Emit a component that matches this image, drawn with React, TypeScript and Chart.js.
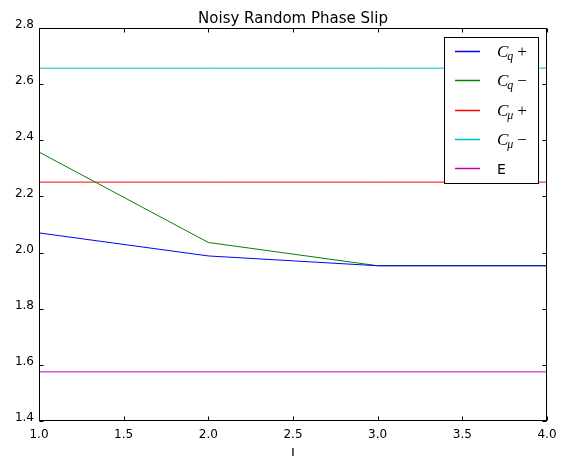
import React, { useEffect, useRef } from "react";
import { Chart, registerables } from "chart.js";

Chart.register(...registerables);

const xValues = [1, 2, 3, 4];
const cqPlus = [2.07, 1.988, 1.953, 1.953];
const cqMinus = [2.358, 2.036, 1.953, 1.953];
const cmuPlus = [2.251, 2.251, 2.251, 2.251];
const cmuMinus = [2.657, 2.657, 2.657, 2.657];
const eValues = [1.575, 1.575, 1.575, 1.575];

const seriesNames = ["Cq+", "Cq-", "Cmu+", "Cmu-", "E"];
const legendMain = ["C", "C", "C", "C", "E"];
const legendSub = ["q", "q", "\u03bc", "\u03bc", ""];
const legendSign = ["+", "\u2212", "+", "\u2212", ""];
const seriesColors = ["#0000ff", "#008000", "#ff0000", "#00bfbf", "#bf00bf"];
const seriesValues = [cqPlus, cqMinus, cmuPlus, cmuMinus, eValues];

const titleText = "Noisy Random Phase Slip";
const xLabel = "I";

const framePlugin = {
  id: "mplFrame",
  afterDatasetsDraw(chart: any) {
    const ctx = chart.ctx;
    const a = chart.chartArea;
    const xs = chart.scales.x;
    const ys = chart.scales.y;
    const L = Math.round(a.left) + 0.5;
    const R = Math.round(a.right) - 0.5;
    const T = Math.round(a.top) + 0.5;
    const B = Math.round(a.bottom) - 0.5;
    ctx.save();
    ctx.strokeStyle = "#000";
    ctx.lineWidth = 1;
    ctx.strokeRect(L, T, R - L, B - T);
    ctx.beginPath();
    xs.ticks.forEach((t: any) => {
      const p = Math.round(xs.getPixelForValue(t.value)) + 0.5;
      ctx.moveTo(p, B);
      ctx.lineTo(p, B - 4);
      ctx.moveTo(p, T);
      ctx.lineTo(p, T + 4);
    });
    ys.ticks.forEach((t: any) => {
      const p = Math.round(ys.getPixelForValue(t.value)) + 0.5;
      ctx.moveTo(L, p);
      ctx.lineTo(L + 4, p);
      ctx.moveTo(R, p);
      ctx.lineTo(R - 4, p);
    });
    ctx.stroke();

    // title
    ctx.fillStyle = "#000";
    ctx.font = "15px 'DejaVu Sans'";
    ctx.textAlign = "center";
    ctx.textBaseline = "alphabetic";
    ctx.fillText(titleText, (a.left + a.right) / 2, 23);
    // x label
    ctx.font = "13px 'DejaVu Sans'";
    ctx.textBaseline = "top";
    ctx.fillText(xLabel, (a.left + a.right) / 2, 447);

    // legend
    const bx = 444.5, by = 37.5, bw = 94, bh = 146;
    ctx.fillStyle = "#fff";
    ctx.fillRect(bx, by, bw, bh);
    ctx.strokeStyle = "#000";
    ctx.lineWidth = 1;
    ctx.strokeRect(bx, by, bw, bh);
    const rows = [51, 80, 110, 139, 168];
    for (let i = 0; i < seriesNames.length; i++) {
      const y = rows[i] + 0.5;
      ctx.strokeStyle = seriesColors[i];
      ctx.lineWidth = 1.5;
      ctx.beginPath();
      ctx.moveTo(455, y);
      ctx.lineTo(480, y);
      ctx.stroke();
      ctx.fillStyle = "#000";
      ctx.textAlign = "left";
      ctx.textBaseline = "alphabetic";
      if (legendSub[i]) {
        ctx.font = "italic 17px 'Liberation Serif'";
        ctx.fillText(legendMain[i], 497, y + 5);
        const cw = ctx.measureText(legendMain[i]).width;
        ctx.font = "italic 12px 'Liberation Serif'";
        ctx.fillText(legendSub[i], 497 + cw - 1, y + 8);
        const sw = ctx.measureText(legendSub[i]).width;
        ctx.font = "17px 'Liberation Serif'";
        ctx.fillText(legendSign[i], 497 + cw + sw + 3, y + 5);
      } else {
        ctx.font = "14px 'DejaVu Sans'";
        ctx.fillText(legendMain[i], 497, y + 5);
      }
    }
    ctx.restore();
  },
};

export default function App() {
  const ref = useRef<HTMLCanvasElement | null>(null);
  useEffect(() => {
    document.body.style.margin = "0";
    const canvas = ref.current!;
    const chart = new Chart(canvas, {
      type: "line",
      data: {
        datasets: seriesNames.map((name, i) => ({
          label: name,
          data: xValues.map((x, j) => ({ x, y: seriesValues[i][j] })),
          borderColor: seriesColors[i],
          backgroundColor: seriesColors[i],
          borderWidth: 1,
          pointRadius: 0,
          tension: 0,
          fill: false,
        })),
      },
      options: {
        animation: false,
        responsive: false,
        maintainAspectRatio: false,
        layout: { padding: { left: 0, right: 19, top: 28, bottom: 0 } },
        plugins: {
          legend: { display: false },
          title: { display: false },
          tooltip: { enabled: false },
        },
        scales: {
          x: {
            type: "linear",
            min: 1,
            max: 4,
            afterFit(scale: any) {
              scale.height = 35;
            },
            grid: { display: false, drawTicks: false },
            border: { display: false },
            ticks: {
              stepSize: 0.5,
              padding: 7,
              color: "#000",
              maxRotation: 0,
              font: { family: "'DejaVu Sans'", size: 12 },
              callback: (v: any) => Number(v).toFixed(1),
            },
          },
          y: {
            type: "linear",
            min: 1.4,
            max: 2.8,
            afterFit(scale: any) {
              scale.width = 39;
            },
            grid: { display: false, drawTicks: false },
            border: { display: false },
            ticks: {
              stepSize: 0.2,
              padding: 5,
              labelOffset: -3,
              color: "#000",
              font: { family: "'DejaVu Sans'", size: 12 },
              callback: (v: any) => Number(v).toFixed(1),
            },
          },
        },
      },
      plugins: [framePlugin],
    });
    return () => chart.destroy();
  }, []);
  return (
    <div style={{ position: "absolute", left: 0, top: 0, width: 566, height: 456 }}>
      <canvas ref={ref} width={566} height={456} style={{ width: 566, height: 456, display: "block" }} />
    </div>
  );
}
